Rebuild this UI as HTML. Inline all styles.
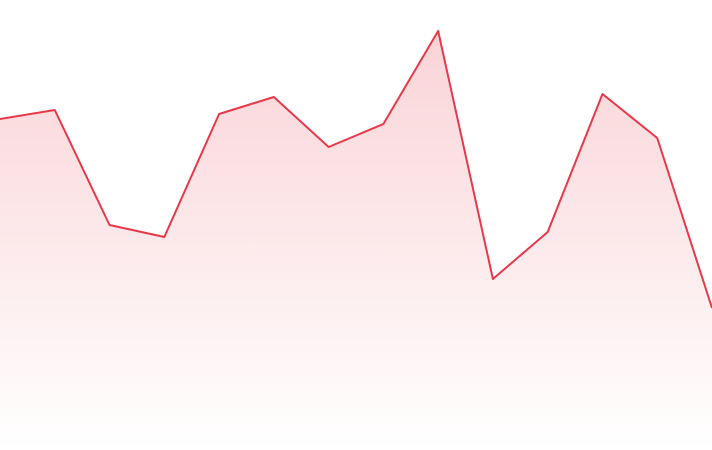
<!DOCTYPE html>
<html>
<head>
<meta charset="utf-8">
<style>
  html, body { margin: 0; padding: 0; background: #ffffff; }
  svg { display: block; }
</style>
</head>
<body>
<svg id="chart" width="712" height="450" viewBox="0 0 712 450">
  <defs>
    <linearGradient id="fillGrad" x1="0" y1="0" x2="0" y2="1">
      <stop offset="0" stop-color="#e8394a" stop-opacity="0.22"/>
      <stop offset="1" stop-color="#e8394a" stop-opacity="0"/>
    </linearGradient>
  </defs>
  <path id="area" fill="url(#fillGrad)" stroke="none"></path>
  <path id="line" fill="none" stroke="#e8394a" stroke-width="2" stroke-linejoin="round"></path>
</svg>
<script>
const categories = ["1","2","3","4","5","6","7","8","9","10","11","12","13","14"];
const values = [331, 340, 225, 213, 336, 353, 303, 326, 419, 171, 218, 356, 312, 142];

const W = 712, H = 450;
function xScale(i) { return i * W / (categories.length - 1); }
function yScale(v) { return H - v; }

const pts = values.map((v, i) => [xScale(i), yScale(v)]);
const lineD = pts.map((p, i) => (i ? "L" : "M") + p[0].toFixed(2) + "," + p[1].toFixed(2)).join(" ");
document.getElementById("line").setAttribute("d", lineD);
const areaD = lineD + " L" + xScale(values.length - 1) + "," + H + " L0," + H + " Z";
document.getElementById("area").setAttribute("d", areaD);
</script>
</body>
</html>
